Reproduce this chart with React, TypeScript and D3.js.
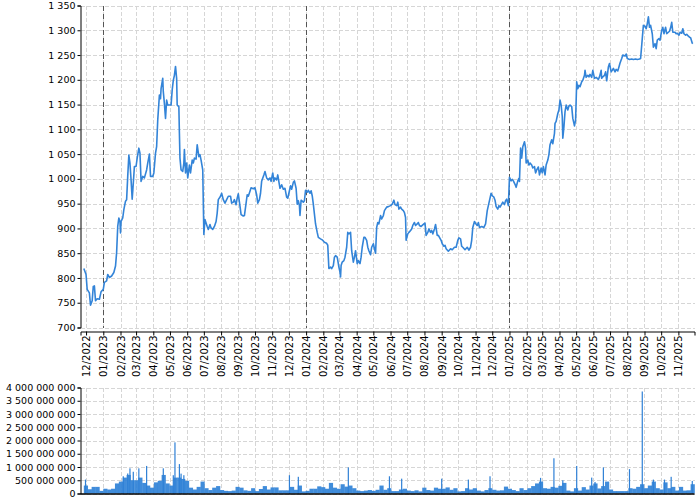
// Price history with weekly volume bars
import { useEffect, useRef } from 'react'
import * as d3 from 'd3'

type Pt = [string, number]

const price2022: Pt[] = [
  ['2022-11-27', 819], ['2022-12-01', 807], ['2022-12-03', 777], ['2022-12-07', 770], ['2022-12-09', 745],
  ['2022-12-12', 754], ['2022-12-14', 783], ['2022-12-16', 784], ['2022-12-18', 754], ['2022-12-21', 758],
  ['2022-12-25', 757], ['2022-12-28', 772],
]

const price2023: Pt[] = [
  ['2023-01-01', 777], ['2023-01-03', 791], ['2023-01-07', 794], ['2023-01-09', 807], ['2023-01-12', 801],
  ['2023-01-16', 804], ['2023-01-20', 811], ['2023-01-23', 824], ['2023-01-25', 851], ['2023-01-27', 904],
  ['2023-01-29', 921], ['2023-01-31', 914], ['2023-02-01', 891], ['2023-02-02', 914], ['2023-02-05', 921],
  ['2023-02-07', 938], ['2023-02-10', 955], ['2023-02-12', 958], ['2023-02-14', 1005], ['2023-02-16', 1048],
  ['2023-02-18', 1032], ['2023-02-20', 998], ['2023-02-22', 959], ['2023-02-24', 991], ['2023-02-26', 1025],
  ['2023-03-01', 1025], ['2023-03-03', 1042], ['2023-03-06', 1062], ['2023-03-08', 1052], ['2023-03-10', 995],
  ['2023-03-13', 1005], ['2023-03-16', 1002], ['2023-03-20', 1018], ['2023-03-22', 1032], ['2023-03-25', 1050],
  ['2023-03-27', 1005], ['2023-03-31', 1005], ['2023-04-02', 1012], ['2023-04-05', 1052], ['2023-04-07', 1065],
  ['2023-04-09', 1119], ['2023-04-12', 1169], ['2023-04-14', 1162], ['2023-04-15', 1182], ['2023-04-18', 1203],
  ['2023-04-19', 1176], ['2023-04-21', 1152], ['2023-04-23', 1122], ['2023-04-25', 1159], ['2023-04-27', 1149],
  ['2023-05-01', 1149], ['2023-05-03', 1149], ['2023-05-05', 1179], ['2023-05-07', 1199], ['2023-05-09', 1209],
  ['2023-05-11', 1227], ['2023-05-13', 1203], ['2023-05-14', 1149], ['2023-05-17', 1146], ['2023-05-18', 1092],
  ['2023-05-19', 1042], ['2023-05-21', 1018], ['2023-05-24', 1015], ['2023-05-26', 1032], ['2023-05-27', 1059],
  ['2023-05-29', 1012], ['2023-05-31', 1032], ['2023-06-02', 1002], ['2023-06-05', 1028], ['2023-06-07', 1012],
  ['2023-06-10', 1038], ['2023-06-12', 1032], ['2023-06-14', 1042], ['2023-06-17', 1040], ['2023-06-19', 1069],
  ['2023-06-22', 1045], ['2023-06-24', 1049], ['2023-06-26', 1038], ['2023-06-29', 1018], ['2023-07-01', 888],
  ['2023-07-03', 918], ['2023-07-05', 911], ['2023-07-07', 904], ['2023-07-09', 898], ['2023-07-12', 908],
  ['2023-07-14', 901], ['2023-07-17', 898], ['2023-07-20', 904], ['2023-07-23', 914], ['2023-07-25', 931],
  ['2023-07-27', 958], ['2023-07-31', 965], ['2023-08-02', 971], ['2023-08-05', 958], ['2023-08-08', 951],
  ['2023-08-11', 958], ['2023-08-14', 965], ['2023-08-18', 965], ['2023-08-20', 951], ['2023-08-23', 953],
  ['2023-08-25', 958], ['2023-08-28', 948], ['2023-08-30', 961], ['2023-09-01', 970], ['2023-09-04', 945],
  ['2023-09-06', 928], ['2023-09-10', 925], ['2023-09-12', 926], ['2023-09-15', 951], ['2023-09-17', 968],
  ['2023-09-19', 965], ['2023-09-22', 975], ['2023-09-24', 982], ['2023-09-28', 980], ['2023-10-01', 982],
  ['2023-10-04', 968], ['2023-10-06', 951], ['2023-10-09', 958], ['2023-10-11', 971], ['2023-10-13', 995],
  ['2023-10-17', 1008], ['2023-10-19', 1015], ['2023-10-22', 1002], ['2023-10-25', 998], ['2023-10-28', 1002],
  ['2023-10-30', 995], ['2023-11-02', 1012], ['2023-11-04', 995], ['2023-11-06', 1002], ['2023-11-09', 998],
  ['2023-11-11', 1008], ['2023-11-15', 981], ['2023-11-18', 988], ['2023-11-21', 979], ['2023-11-24', 981],
  ['2023-11-27', 963], ['2023-11-29', 961], ['2023-12-02', 976], ['2023-12-04', 986], ['2023-12-06', 979],
  ['2023-12-09', 993], ['2023-12-11', 996], ['2023-12-14', 981], ['2023-12-16', 949], ['2023-12-18', 956],
  ['2023-12-20', 946], ['2023-12-21', 926], ['2023-12-23', 957], ['2023-12-27', 953], ['2023-12-29', 956],
  ['2023-12-31', 977],
]

const price2024: Pt[] = [
  ['2024-01-03', 973], ['2024-01-05', 977], ['2024-01-08', 971], ['2024-01-10', 976], ['2024-01-12', 966],
  ['2024-01-14', 949], ['2024-01-16', 929], ['2024-01-18', 909], ['2024-01-21', 892], ['2024-01-23', 882],
  ['2024-01-27', 879], ['2024-01-30', 877], ['2024-02-03', 872], ['2024-02-07', 870], ['2024-02-09', 866],
  ['2024-02-10', 842], ['2024-02-11', 819], ['2024-02-14', 822], ['2024-02-16', 819], ['2024-02-19', 825],
  ['2024-02-21', 842], ['2024-02-23', 845], ['2024-02-26', 842], ['2024-02-28', 829], ['2024-02-29', 822],
  ['2024-03-02', 812], ['2024-03-03', 802], ['2024-03-04', 825], ['2024-03-06', 832], ['2024-03-09', 835],
  ['2024-03-11', 842], ['2024-03-14', 862], ['2024-03-16', 892], ['2024-03-18', 889], ['2024-03-21', 892],
  ['2024-03-23', 855], ['2024-03-26', 832], ['2024-03-28', 842], ['2024-03-30', 855], ['2024-04-02', 829],
  ['2024-04-04', 835], ['2024-04-07', 829], ['2024-04-09', 842], ['2024-04-11', 862], ['2024-04-14', 882],
  ['2024-04-16', 882], ['2024-04-19', 876], ['2024-04-21', 862], ['2024-04-23', 855], ['2024-04-26', 847],
  ['2024-04-28', 862], ['2024-05-01', 869], ['2024-05-03', 859], ['2024-05-05', 850], ['2024-05-07', 902],
  ['2024-05-09', 912], ['2024-05-11', 909], ['2024-05-14', 926], ['2024-05-16', 919], ['2024-05-19', 926],
  ['2024-05-21', 936], ['2024-05-25', 943], ['2024-05-28', 944], ['2024-06-01', 946], ['2024-06-04', 949],
  ['2024-06-07', 957], ['2024-06-09', 948], ['2024-06-12', 946], ['2024-06-14', 953], ['2024-06-16', 939],
  ['2024-06-19', 943], ['2024-06-21', 939], ['2024-06-24', 936], ['2024-06-26', 932], ['2024-06-28', 922],
  ['2024-06-29', 876], ['2024-07-02', 889], ['2024-07-04', 892], ['2024-07-07', 896], ['2024-07-09', 899],
  ['2024-07-11', 906], ['2024-07-14', 912], ['2024-07-16', 906], ['2024-07-19', 909], ['2024-07-21', 912],
  ['2024-07-23', 906], ['2024-07-26', 904], ['2024-07-28', 906], ['2024-07-31', 909], ['2024-08-02', 911],
  ['2024-08-04', 886], ['2024-08-07', 892], ['2024-08-09', 899], ['2024-08-12', 892], ['2024-08-14', 896],
  ['2024-08-16', 889], ['2024-08-19', 899], ['2024-08-21', 908], ['2024-08-24', 886], ['2024-08-26', 886],
  ['2024-08-28', 882], ['2024-08-31', 876], ['2024-09-02', 869], ['2024-09-05', 864], ['2024-09-07', 866],
  ['2024-09-09', 859], ['2024-09-13', 854], ['2024-09-17', 859], ['2024-09-20', 857], ['2024-09-24', 862],
  ['2024-09-27', 862], ['2024-09-30', 876], ['2024-10-02', 881], ['2024-10-05', 879], ['2024-10-07', 864],
  ['2024-10-09', 862], ['2024-10-13', 857], ['2024-10-17', 862], ['2024-10-20', 856], ['2024-10-23', 862],
  ['2024-10-25', 876], ['2024-10-27', 902], ['2024-10-30', 914], ['2024-11-01', 910], ['2024-11-04', 906],
  ['2024-11-06', 912], ['2024-11-08', 902], ['2024-11-12', 904], ['2024-11-16', 902], ['2024-11-19', 909],
  ['2024-11-22', 936], ['2024-11-24', 946], ['2024-11-26', 956], ['2024-11-29', 971], ['2024-12-01', 966],
  ['2024-12-04', 963], ['2024-12-06', 957], ['2024-12-08', 944], ['2024-12-11', 939], ['2024-12-13', 946],
  ['2024-12-15', 943], ['2024-12-18', 949], ['2024-12-20', 953], ['2024-12-23', 948], ['2024-12-25', 956],
  ['2024-12-27', 959], ['2024-12-30', 946],
]

const price2025: Pt[] = [
  ['2025-01-01', 1003], ['2025-01-04', 996], ['2025-01-06', 999], ['2025-01-08', 996], ['2025-01-11', 989],
  ['2025-01-13', 983], ['2025-01-16', 996], ['2025-01-18', 1001], ['2025-01-19', 995], ['2025-01-21', 1062],
  ['2025-01-23', 1042], ['2025-01-25', 1065], ['2025-01-28', 1075], ['2025-01-30', 1062], ['2025-01-31', 1032],
  ['2025-02-03', 1038], ['2025-02-05', 1028], ['2025-02-07', 1032], ['2025-02-10', 1028], ['2025-02-12', 1022],
  ['2025-02-15', 1025], ['2025-02-17', 1012], ['2025-02-19', 1018], ['2025-02-22', 1024], ['2025-02-24', 1008],
  ['2025-02-27', 1022], ['2025-03-01', 1012], ['2025-03-03', 1025], ['2025-03-06', 1008], ['2025-03-08', 1028],
  ['2025-03-11', 1038], ['2025-03-13', 1049], ['2025-03-15', 1069], ['2025-03-18', 1079], ['2025-03-20', 1071],
  ['2025-03-23', 1092], ['2025-03-24', 1112], ['2025-03-26', 1116], ['2025-03-29', 1132], ['2025-03-31', 1139],
  ['2025-04-02', 1159], ['2025-04-04', 1149], ['2025-04-06', 1126], ['2025-04-07', 1082], ['2025-04-09', 1105],
  ['2025-04-11', 1136], ['2025-04-13', 1149], ['2025-04-16', 1139], ['2025-04-18', 1147], ['2025-04-20', 1149],
  ['2025-04-23', 1146], ['2025-04-25', 1122], ['2025-04-28', 1107], ['2025-04-30', 1119], ['2025-05-02', 1196],
  ['2025-05-04', 1182], ['2025-05-06', 1189], ['2025-05-08', 1186], ['2025-05-11', 1196], ['2025-05-13', 1199],
  ['2025-05-16', 1209], ['2025-05-17', 1219], ['2025-05-19', 1205], ['2025-05-22', 1209], ['2025-05-24', 1206],
  ['2025-05-26', 1211], ['2025-05-29', 1205], ['2025-05-31', 1219], ['2025-06-03', 1203], ['2025-06-06', 1205],
  ['2025-06-10', 1201], ['2025-06-12', 1206], ['2025-06-15', 1219], ['2025-06-16', 1203], ['2025-06-18', 1206],
  ['2025-06-21', 1209], ['2025-06-23', 1216], ['2025-06-25', 1198], ['2025-06-28', 1226], ['2025-06-30', 1233],
  ['2025-07-03', 1216], ['2025-07-05', 1219], ['2025-07-07', 1223], ['2025-07-10', 1216], ['2025-07-12', 1221],
  ['2025-07-15', 1218], ['2025-07-17', 1226], ['2025-07-19', 1234], ['2025-07-22', 1243], ['2025-07-24', 1250],
  ['2025-07-28', 1248], ['2025-07-30', 1252], ['2025-08-01', 1243], ['2025-08-05', 1241], ['2025-08-09', 1242],
  ['2025-08-12', 1241], ['2025-08-16', 1242], ['2025-08-19', 1241], ['2025-08-23', 1242], ['2025-08-25', 1243],
  ['2025-08-28', 1283], ['2025-08-30', 1310], ['2025-09-02', 1308], ['2025-09-04', 1303], ['2025-09-06', 1313],
  ['2025-09-08', 1327], ['2025-09-10', 1306], ['2025-09-12', 1310], ['2025-09-15', 1293], ['2025-09-17', 1266],
  ['2025-09-20', 1273], ['2025-09-22', 1263], ['2025-09-24', 1280], ['2025-09-27', 1283], ['2025-09-29', 1280],
  ['2025-10-02', 1300], ['2025-10-04', 1306], ['2025-10-06', 1293], ['2025-10-09', 1306], ['2025-10-11', 1293],
  ['2025-10-14', 1296], ['2025-10-16', 1298], ['2025-10-18', 1305], ['2025-10-20', 1316], ['2025-10-22', 1296],
  ['2025-10-26', 1296], ['2025-10-28', 1293], ['2025-10-30', 1294], ['2025-11-02', 1290], ['2025-11-04', 1296],
  ['2025-11-07', 1294], ['2025-11-09', 1303], ['2025-11-11', 1293], ['2025-11-14', 1290], ['2025-11-16', 1292],
  ['2025-11-19', 1288], ['2025-11-21', 1286], ['2025-11-23', 1285], ['2025-11-26', 1274], ['2025-11-27', 1273],
]

// weekly volume in millions, weeks starting Sunday 2022-11-27
const volumeFirstWeek = '2022-11-27'
const weeklyVolumeM = [
  300, 160, 250, 250, 100, 180, 150, 180, 380, 450, 600, 700, 500, 500, 600, 400, 300, 220, 420, 480,
  700, 380, 300, 600, 600, 550, 480, 220, 150, 250, 450, 200, 130, 220, 280, 130, 100, 90, 110,
  250, 220, 120, 100, 200, 90, 170, 280, 150, 230, 230, 120, 120, 120, 250, 140, 300, 80, 100, 180,
  180, 270, 240, 180, 400, 220, 180, 350, 260, 300, 200, 110, 90, 110, 130, 100, 140, 300, 140,
  200, 90, 90, 150, 180, 110, 90, 120, 80, 220, 130, 110, 220, 180, 180, 230, 140, 200, 80, 90,
  200, 150, 200, 110, 80, 130, 200, 140, 110, 120, 260, 180, 130, 90, 200, 130, 200, 280, 380, 450,
  200, 180, 250, 220, 290, 400, 110, 80, 200, 110, 240, 150, 300, 380, 190, 280, 450, 150, 90, 90,
  90, 90, 200, 180, 250, 350, 200, 300, 450, 200, 150, 420, 200, 250, 110, 250, 110, 120, 350,
]

// single sessions that stand out above the weekly level (millions)
const volumeSpikesM: Pt[] = [
  ['2022-11-30', 525], ['2023-02-06', 650], ['2023-02-14', 755], ['2023-02-18', 950], ['2023-02-24', 820],
  ['2023-03-06', 950], ['2023-03-20', 1040], ['2023-04-19', 950], ['2023-05-07', 690], ['2023-05-10', 1930],
  ['2023-05-18', 1110], ['2023-05-21', 750], ['2023-05-26', 690], ['2023-12-02', 690], ['2023-12-18', 630],
  ['2024-03-17', 985], ['2024-05-30', 650], ['2024-06-21', 560], ['2024-09-01', 560], ['2024-10-19', 525],
  ['2024-11-27', 650], ['2025-02-26', 590], ['2025-03-22', 1330], ['2025-04-07', 500], ['2025-05-02', 1040],
  ['2025-05-29', 600], ['2025-06-04', 435], ['2025-06-19', 985], ['2025-08-05', 920], ['2025-08-28', 3850],
  ['2025-09-17', 525], ['2025-10-07', 525], ['2025-10-19', 630], ['2025-11-26', 475],
]

const yearStarts = ['2023-01-01', '2024-01-01', '2025-01-01']

export default function App() {
  const svgRef = useRef<SVGSVGElement>(null)

  useEffect(() => {
    if (!svgRef.current) return
    const svg = d3.select(svgRef.current)
    svg.selectAll('*').remove()

    const parse = d3.timeParse('%Y-%m-%d')
    const prices = [...price2022, ...price2023, ...price2024, ...price2025]
      .map(([d, v]) => ({ date: parse(d)!, value: v }))

    const left = 80.5
    const right = 694.5
    const font = 'DejaVu Sans'

    const x = d3.scaleTime()
      .domain([parse('2022-11-21')!, parse('2025-11-30')!])
      .range([left, right])
    const y = d3.scaleLinear().domain([700, 1350]).range([327.5, 5.5])
    const yv = d3.scaleLinear().domain([0, 4e9]).range([493.5, 387.5])

    const locale = d3.formatLocale({ decimal: ',', thousands: ' ', grouping: [3], currency: ['', ''] })
    const fmt = locale.format(',d')

    const months = d3.timeMonth.range(parse('2022-12-01')!, parse('2025-12-01')!)

    // grids
    const grid = svg.append('g')
      .attr('stroke', '#d6d6d6')
      .attr('stroke-width', 1)
      .attr('stroke-dasharray', '4,2')
      .attr('shape-rendering', 'crispEdges')

    const panels: [number, number][] = [[y.range()[1], y.range()[0]], [yv.range()[1], yv.range()[0]]]
    panels.forEach(([top, bottom]) => {
      grid.append('g').selectAll('line')
        .data(months)
        .enter().append('line')
        .attr('x1', d => Math.round(x(d)) + 0.5)
        .attr('x2', d => Math.round(x(d)) + 0.5)
        .attr('y1', top)
        .attr('y2', bottom)
    })
    grid.append('g').selectAll('line')
      .data(y.ticks())
      .enter().append('line')
      .attr('x1', left).attr('x2', right)
      .attr('y1', d => Math.round(y(d)) + 0.5)
      .attr('y2', d => Math.round(y(d)) + 0.5)
    grid.append('g').selectAll('line')
      .data(yv.ticks())
      .enter().append('line')
      .attr('x1', left).attr('x2', right)
      .attr('y1', d => Math.round(yv(d)) + 0.5)
      .attr('y2', d => Math.round(yv(d)) + 0.5)

    // year separators
    svg.append('g').selectAll('line')
      .data(yearStarts.map(d => parse(d)!))
      .enter().append('line')
      .attr('x1', d => Math.round(x(d)) + 0.5)
      .attr('x2', d => Math.round(x(d)) + 0.5)
      .attr('y1', y(1350))
      .attr('y2', y(700))
      .attr('stroke', '#555')
      .attr('stroke-dasharray', '5,3')
      .attr('shape-rendering', 'crispEdges')

    // price line
    const line = d3.line<{ date: Date, value: number }>()
      .x(d => x(d.date))
      .y(d => y(d.value))

    svg.append('path')
      .datum(prices)
      .attr('fill', 'none')
      .attr('stroke', '#3384d8')
      .attr('stroke-width', 1.6)
      .attr('stroke-linejoin', 'round')
      .attr('d', line)

    // volume
    const firstWeek = parse(volumeFirstWeek)!
    const weeks = weeklyVolumeM.map((v, i) => ({ date: d3.timeWeek.offset(firstWeek, i), value: v * 1e6 }))

    svg.append('g').selectAll('rect')
      .data(weeks)
      .enter().append('rect')
      .attr('x', d => x(d.date))
      .attr('width', d => x(d3.timeWeek.offset(d.date, 1)) - x(d.date) + 0.3)
      .attr('y', d => yv(d.value))
      .attr('height', d => yv(0) - yv(d.value))
      .attr('fill', '#3082d7')
      .attr('fill-opacity', 0.92)

    svg.append('g').selectAll('rect')
      .data(volumeSpikesM.map(([d, v]) => ({ date: parse(d)!, value: v * 1e6 })))
      .enter().append('rect')
      .attr('x', d => x(d.date) - 0.6)
      .attr('width', 1.2)
      .attr('y', d => yv(d.value))
      .attr('height', d => yv(0) - yv(d.value))
      .attr('fill', '#2f80d6')

    // axes
    const styleAxis = (g: d3.Selection<SVGGElement, unknown, null, undefined>) => {
      g.attr('font-family', font).attr('font-size', 10)
      g.selectAll('text').attr('fill', '#000')
    }

    svg.append('g')
      .attr('transform', `translate(${left},0)`)
      .call(d3.axisLeft(y).tickSize(3).tickPadding(2).tickFormat(d => fmt(d as number)))
      .call(styleAxis)
      .attr('font-size', 9.5)

    svg.append('g')
      .attr('transform', `translate(${left},0)`)
      .call(d3.axisLeft(yv).tickSize(3).tickPadding(2).tickFormat(d => fmt(d as number)))
      .call(styleAxis)
      .attr('font-size', 9.5)

    const xAxis = svg.append('g')
      .attr('transform', 'translate(0,331.5)')
      .call(d3.axisBottom(x)
        .tickValues(months)
        .tickSize(4)
        .tickFormat(d => d3.timeFormat('%m/%Y')(d as Date)))
      .call(styleAxis)

    xAxis.selectAll('text')
      .attr('transform', 'rotate(-90)')
      .attr('text-anchor', 'end')
      .attr('x', -4)
      .attr('y', 0)
      .attr('dy', '0.35em')

    svg.append('line')
      .attr('x1', left).attr('x2', right)
      .attr('y1', yv(0) + 0.5).attr('y2', yv(0) + 0.5)
      .attr('stroke', '#000')
      .attr('stroke-width', 1.5)
  }, [])

  return (
    <svg
      ref={svgRef}
      width={700}
      height={500}
      style={{ position: 'absolute', left: 0, top: 0, background: '#fff' }}
    />
  )
}
